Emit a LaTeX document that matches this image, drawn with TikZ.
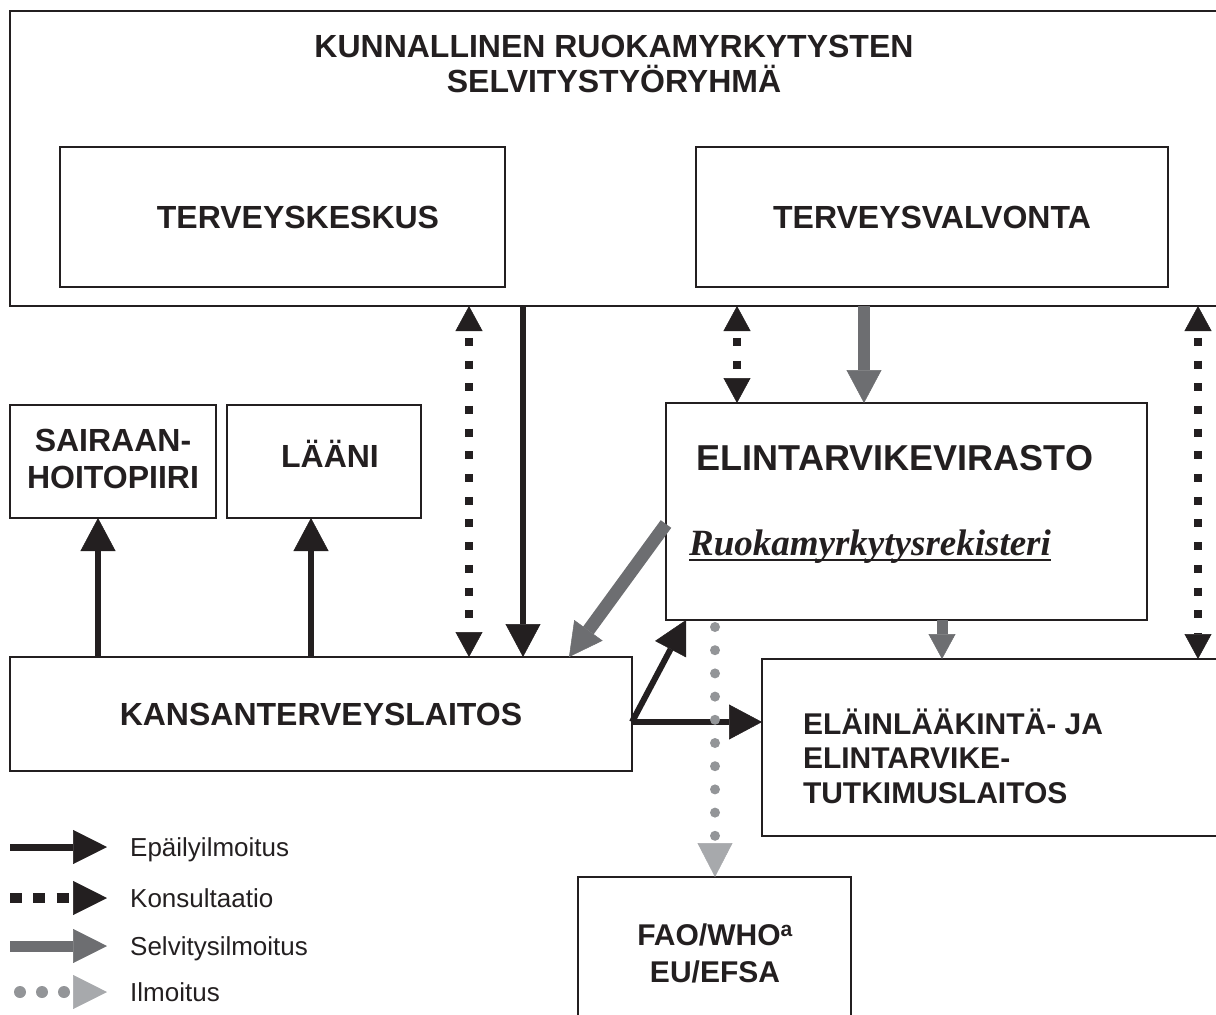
\documentclass[tikz,border=0pt]{standalone}
\usepackage{fontspec}
\setmainfont{Liberation Sans}
\newfontfamily\serifit{Liberation Serif}
\usetikzlibrary{arrows.meta}
\definecolor{ink}{HTML}{231F20}
\definecolor{midgray}{HTML}{6D6E71}
\definecolor{dotgray}{HTML}{939598}
\definecolor{lightgray}{HTML}{A7A9AC}
\begin{document}
\begin{tikzpicture}[x=1pt,y=-1pt,
  box/.style={draw=ink, line width=2.6pt, rectangle, inner sep=0pt, outer sep=0pt, anchor=north west,
    font=\bfseries\fontsize{32}{38}\selectfont, text=ink, align=center},
  lbl/.style={text=ink, inner sep=0pt, outer sep=0pt, font=\bfseries\fontsize{32}{38}\selectfont},
  legtext/.style={text=ink, inner sep=0pt, anchor=base west, font=\fontsize{26}{30}\selectfont},
  blackarr/.style={draw=ink, line width=6pt, -{Triangle[width=35pt,length=33pt,line width=0.5pt]}},
  dotarr/.style={draw=ink, line width=8pt, dash pattern=on 8pt off 14.7pt, dash phase=15.7pt,
    {Triangle[width=27pt,length=25pt,line width=0.5pt]}-{Triangle[width=27pt,length=25pt,line width=0.5pt]}},
  grayarr/.style={draw=midgray, line width=12pt, -{Triangle[width=35pt,length=33pt,line width=0.5pt]}},
  smallgrayarr/.style={draw=midgray, line width=11pt, -{Triangle[width=27pt,length=25pt,line width=0.5pt]}},
  dotgrayarr/.style={draw=dotgray, line width=10pt, line cap=round, dash pattern=on 0pt off 23.2pt, dash phase=16.2pt,
    -{Triangle[width=35pt,length=34pt,line width=0.5pt,color=lightgray]}}
]
\useasboundingbox (0,0) rectangle (1216,1015);

% boxes
\node[box, minimum width=1250pt, minimum height=295pt] (outer) at (10,11) {};
\node[lbl, anchor=base] (t1) at (614,57) {KUNNALLINEN RUOKAMYRKYTYSTEN};
\node[lbl, anchor=base] (t2) at (614,92) {SELVITYSTYÖRYHMÄ};

\node[box, minimum width=445pt, minimum height=140pt] (tk) at (60,147) {};
\node[lbl] (tkt) at (298,217) {TERVEYSKESKUS};
\node[box, minimum width=472pt, minimum height=140pt] (tv) at (696,147) {};
\node[lbl] (tvt) at (932,217) {TERVEYSVALVONTA};
\node[box, minimum width=206pt, minimum height=113pt] (sh) at (10,405) {};
\node[lbl, align=center, font=\bfseries\fontsize{32}{37}\selectfont] (sht) at (113,459) {SAIRAAN-\\HOITOPIIRI};
\node[box, minimum width=194pt, minimum height=113pt] (la) at (227,405) {};
\node[lbl, anchor=base] (lat) at (330,467) {LÄÄNI};
\node[box, minimum width=481pt, minimum height=217pt] (elv) at (666,403) {};
\node[lbl, anchor=base, font=\bfseries\fontsize{36}{40}\selectfont] (elvt) at (895,470) {ELINTARVIKEVIRASTO};
\node[lbl, anchor=base, font=\serifit\bfseries\itshape\fontsize{37}{40}\selectfont] (reg) at (870,555) {Ruokamyrkytysrekisteri};
\draw[ink, line width=2pt] ([yshift=-5pt]reg.base west) -- ([yshift=-5pt]reg.base east);
\node[box, minimum width=622pt, minimum height=114pt] (ktl) at (10,657) {KANSANTERVEYSLAITOS};
\node[box, minimum width=480pt, minimum height=177pt] (ell) at (762,659) {};
\node[lbl, anchor=west, align=left, font=\bfseries\fontsize{30}{34.5}\selectfont] (ellt) at (803,756) {ELÄINLÄÄKINTÄ- JA\\ELINTARVIKE-\\TUTKIMUSLAITOS};
\node[box, minimum width=273pt, minimum height=200pt] (fao) at (578,877) {};
\node[lbl, align=center, font=\bfseries\fontsize{30}{37}\selectfont] (faot) at (715,953) {FAO/WHO\textsuperscript{a}\\EU/EFSA};

% helper coordinates
\coordinate (c98) at (98,0);
\coordinate (c311) at (311,0);
\coordinate (c469) at (469,0);
\coordinate (c523) at (523,0);
\coordinate (c569) at (569,0);
\coordinate (c686) at (686,0);
\coordinate (c715) at (715,0);
\coordinate (c737) at (737,0);
\coordinate (c864) at (864,0);
\coordinate (c942) at (942,0);
\coordinate (c1198) at (1198,0);
\coordinate (r524) at (0,524);
\coordinate (r722) at (0,722);

% connectors
\draw[dotarr] (outer.south -| c469) -- (ktl.north -| c469);
\draw[blackarr] (outer.south -| c523) -- (ktl.north -| c523);
\draw[dotarr] (outer.south -| c737) -- (elv.north -| c737);
\draw[grayarr] (outer.south -| c864) -- (elv.north -| c864);
\draw[dotarr] (outer.south -| c1198) -- (ell.north -| c1198);
\draw[smallgrayarr] (elv.south -| c942) -- (ell.north -| c942);
\draw[grayarr, line width=13pt] (elv.west |- r524) -- (ktl.north -| c569);
\draw[blackarr] (ktl.east |- r722) -- (elv.south -| c686);
\draw[blackarr] (ktl.east |- r722) -- (ell.west |- r722);
\draw[blackarr] (ktl.north -| c98) -- (sh.south -| c98);
\draw[blackarr] (ktl.north -| c311) -- (la.south -| c311);
\draw[dotgrayarr] (elv.south -| c715) -- (fao.north -| c715);

% legend
\node[legtext] (l1) at (130,856) {Epäilyilmoitus};
\node[legtext] (l2) at (130,907) {Konsultaatio};
\node[legtext] (l3) at (130,955) {Selvitysilmoitus};
\node[legtext] (l4) at (130,1001) {Ilmoitus};
\coordinate (l1s) at (10,847);
\coordinate (l2s) at (10,898);
\coordinate (l3s) at (10,946);
\coordinate (l4s) at (20,992);
\coordinate (l1e) at (107,847);
\coordinate (l2e) at (107,898);
\coordinate (l3e) at (107,946);
\coordinate (l4e) at (107,992);
\draw[draw=ink, line width=7pt, -{Triangle[width=34pt,length=34pt,line width=0.5pt]}] (l1s) -- (l1e);
\draw[draw=ink, line width=10pt, dash pattern=on 12pt off 11.3pt, -{Triangle[width=34pt,length=34pt,line width=0.5pt]}] (l2s) -- (l2e);
\draw[draw=midgray, line width=11pt, -{Triangle[width=34pt,length=34pt,line width=0.5pt]}] (l3s) -- (l3e);
\draw[draw=dotgray, line width=12pt, line cap=round, dash pattern=on 0pt off 22pt, -{Triangle[width=34pt,length=34pt,line width=0.5pt,color=lightgray]}] (l4s) -- (l4e);
\end{tikzpicture}
\end{document}
